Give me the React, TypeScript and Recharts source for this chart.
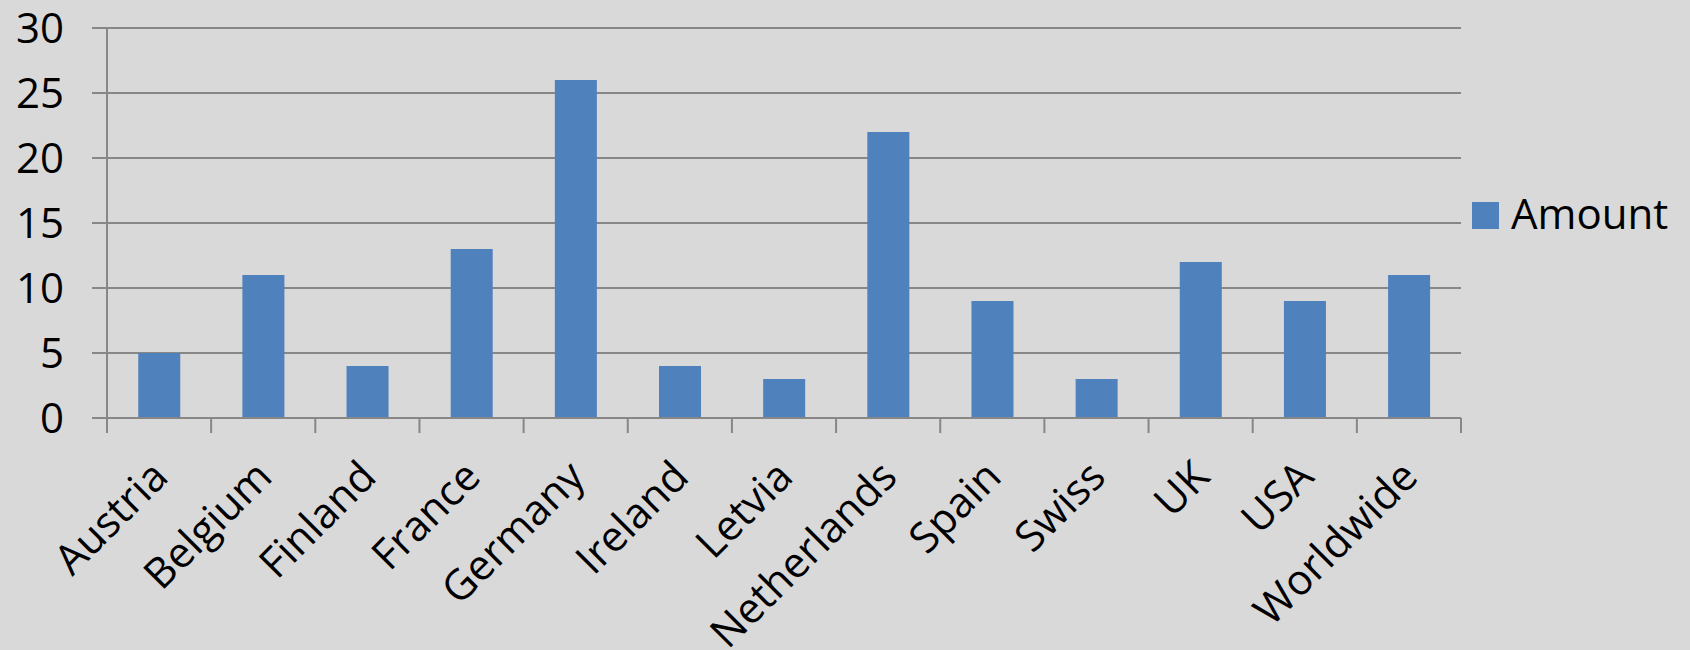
import React from 'react'
import { BarChart, Bar, XAxis, YAxis, CartesianGrid, Legend } from 'recharts'

const countries = [
  'Austria', 'Belgium', 'Finland', 'France', 'Germany', 'Ireland', 'Letvia',
  'Netherlands', 'Spain', 'Swiss', 'UK', 'USA', 'Worldwide',
]
const amounts = [5, 11, 4, 13, 26, 4, 3, 22, 9, 3, 12, 9, 11]
const yTicks = [0, 5, 10, 15, 20, 25, 30]
const seriesName = 'Amount'

const data = countries.map((name, i) => ({ name, Amount: amounts[i] }))

const WIDTH = 1690
const HEIGHT = 650
const MARGIN = { top: 28, right: 229, bottom: 0, left: 0 }
const Y_WIDTH = 107
const PLOT_W = WIDTH - MARGIN.left - MARGIN.right - Y_WIDTH
const BAND = PLOT_W / countries.length
const GRID = '#878787'
const BAR = '#4f81bd'
const FONT = '"Open Sans", sans-serif'
const TICK_LEN = 15
const LABEL_GAP = 25
const LABEL_SHIFT = -10

// category labels rotated -45deg, with Excel-style tick marks between categories
function CountryTick(props: any) {
  const { x, y, payload, index } = props
  const axisY = y - TICK_LEN - LABEL_GAP
  const left = x - BAND / 2
  const lx = x + LABEL_SHIFT
  return (
    <g>
      <line x1={left} x2={left} y1={axisY} y2={axisY + TICK_LEN} stroke={GRID} strokeWidth={2} />
      {index === countries.length - 1 && (
        <line x1={x + BAND / 2} x2={x + BAND / 2} y1={axisY} y2={axisY + TICK_LEN} stroke={GRID} strokeWidth={2} />
      )}
      <text
        x={lx}
        y={y}
        dy="0.71em"
        textAnchor="end"
        transform={`rotate(-45, ${lx}, ${y})`}
        fontSize={42}
        fill="#000"
        fontFamily={FONT}
      >
        {payload.value}
      </text>
    </g>
  )
}

function AmountLegend() {
  return (
    <svg width={200} height={60}>
      <rect x={0} y={17} width={27} height={27} fill={BAR} />
      <text x={39} y={44} fontSize={42} fill="#000" fontFamily={FONT}>
        {seriesName}
      </text>
    </svg>
  )
}

export default function App() {
  return (
    <div style={{ position: 'absolute', left: 0, top: 0, width: WIDTH, height: HEIGHT, background: '#d9d9d9' }}>
      <BarChart
        width={WIDTH}
        height={HEIGHT}
        data={data}
        margin={MARGIN}
        barCategoryGap="30%"
        style={{ fontFamily: FONT }}
      >
        <CartesianGrid vertical={false} stroke={GRID} strokeWidth={2} />
        <XAxis
          dataKey="name"
          interval={0}
          height={232}
          axisLine={{ stroke: GRID, strokeWidth: 2 }}
          tickLine={false}
          tickSize={TICK_LEN}
          tickMargin={LABEL_GAP}
          tick={<CountryTick />}
        />
        <YAxis
          domain={[0, 30]}
          ticks={yTicks}
          width={Y_WIDTH}
          axisLine={{ stroke: GRID, strokeWidth: 2 }}
          tickLine={{ stroke: GRID, strokeWidth: 2 }}
          tickSize={TICK_LEN}
          tickMargin={28}
          tick={{ fontSize: 42, fill: '#000', fontFamily: FONT }}
        />
        <Legend
          layout="horizontal"
          align="center"
          verticalAlign="middle"
          wrapperStyle={{ left: 1472, top: 185, width: 200 }}
          content={<AmountLegend />}
        />
        <Bar dataKey="Amount" name={seriesName} fill={BAR} isAnimationActive={false} />
      </BarChart>
    </div>
  )
}
